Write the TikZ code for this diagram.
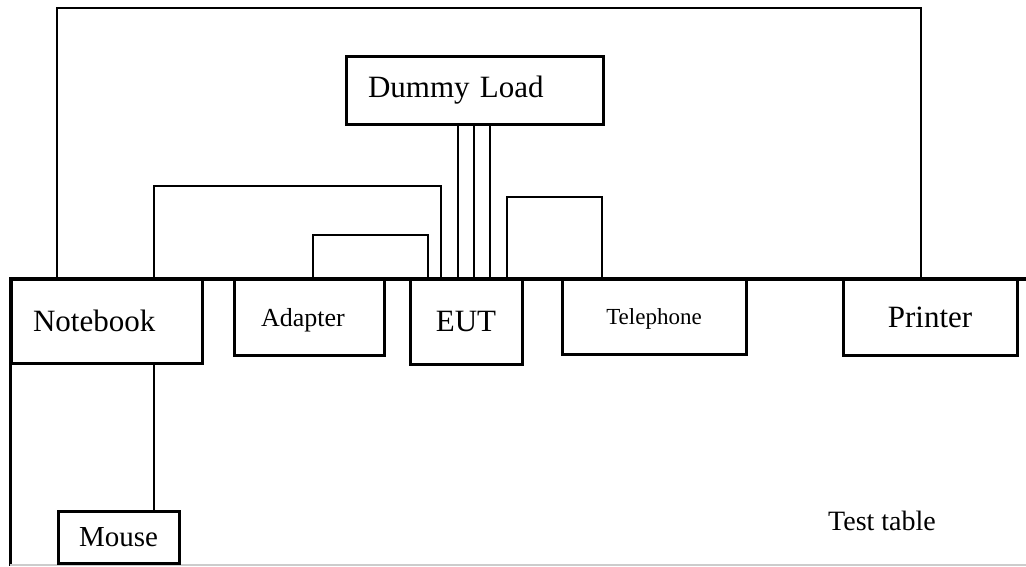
\documentclass[tikz,border=0pt]{standalone}
\usepackage{fontspec}
\setmainfont{Liberation Serif}
\begin{document}
\begin{tikzpicture}[x=1pt,y=-1pt,unit/.style={draw,line width=3pt,inner sep=0pt,outer sep=0pt,anchor=north west,font=\fontsize{31}{34}\selectfont},lefttext/.style={align=left,inner xsep=22pt,text width=#1},wire/.style={line width=2.2pt}]
\useasboundingbox (0,0) rectangle (1026,566);
% test table
\draw[line width=4.5pt] (9,279) -- (1026,279);
\draw[line width=3pt] (10,279) -- (10,566);
\draw[black!20,line width=1.5pt] (10,565) -- (1026,565);
\node[font=\fontsize{28}{30}\selectfont] (tt) at (882,521) {Test table};
% units
\node[unit,lefttext=147,minimum height=84] (nb) at (11,279) {Notebook};
\node[unit,minimum width=150,minimum height=76,text depth=0pt,font=\fontsize{26}{28}\selectfont] (ad) at (234,279) {\hspace*{-12pt}Adapter};
\node[unit,minimum width=112,minimum height=85] (eut) at (410,279) {EUT};
\node[unit,minimum width=184,minimum height=75,text depth=0pt,font=\fontsize{23}{25}\selectfont] (tel) at (562,279) {Telephone};
\node[unit,minimum width=174,minimum height=76] (pr) at (843,279) {Printer};
\node[unit,lefttext=213,minimum height=68] (dl) at (346,56) {Dummy Load};
\node[unit,minimum width=121,minimum height=52,font=\fontsize{29}{31}\selectfont] (ms) at (58,511) {Mouse};
% cables
\draw[wire] ([xshift=46]nb.north west) -- ++(0,-271) -| ([xshift=78]pr.north west);
\draw[wire] ([xshift=143]nb.north west) -- ++(0,-93) -| ([xshift=31]eut.north west);
\draw[wire] ([xshift=79]ad.north west) -- ++(0,-44) -| ([xshift=18]eut.north west);
\draw[wire] ([xshift=97]eut.north west) -- ++(0,-82) -| ([xshift=40]tel.north west);
\foreach \dx in {48,64,80}{\draw[wire] ([xshift=\dx]eut.north west) -- ([xshift=\dx]eut.north west |- dl.south);}
\draw[wire] ([xshift=143]nb.south west) -- ([xshift=96]ms.north west);
\end{tikzpicture}
\end{document}
